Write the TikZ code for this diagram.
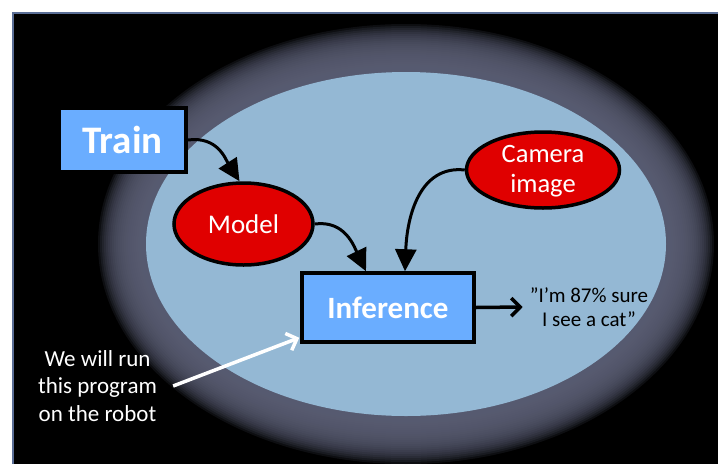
\documentclass[tikz,border=0pt]{standalone}
\usepackage{fontspec}
\setmainfont{Carlito}
\usetikzlibrary{arrows.meta,shapes.geometric}
\definecolor{halo}{RGB}{92,96,118}
\definecolor{pale}{RGB}{148,184,212}
\definecolor{boxblue}{RGB}{106,173,255}
\definecolor{redfill}{RGB}{224,0,0}
\definecolor{frameblue}{RGB}{90,110,150}
\begin{document}
\begin{tikzpicture}[x=1pt,y=-1pt,
  boxnode/.style={draw=black, line width=3.5pt, fill=boxblue, text=white, inner sep=0pt},
  oval/.style={ellipse, draw=black, line width=3.5pt, fill=redfill, inner sep=0pt},
  flow/.style={line width=3pt, -{Triangle[length=22pt,width=21pt]}},
  barb/.style={line width=3.5pt, -{Straight Barb[length=9pt,width=18pt]}},
  lbl/.style={inner sep=0pt, align=center}]
\useasboundingbox (0,0) rectangle (718,464);
\fill[white] (0,0) rectangle (718,464);
\fill[black] (13,13) rectangle (718,464);
\begin{scope}
  \clip (13,13) rectangle (718,464);
  \foreach \i in {48,46,...,2} {
    \fill[halo, fill opacity=0.15] (406,244) ellipse [x radius=260+\i, y radius=172+\i];
  }
\end{scope}
\fill[pale] (406,244) ellipse [x radius=260, y radius=172];
\draw[frameblue, line width=1.2pt] (13,464) -- (13,13) -- (718,13);

\node[boxnode, minimum width=127pt, minimum height=64pt, font=\fontsize{39}{44}\selectfont\bfseries] (train) at (122.5,140) {Train};
\node[oval, minimum width=139pt, minimum height=82pt, text=white, font=\fontsize{27}{32}\selectfont] (model) at (243.5,224) {Model};
\node[oval, minimum width=153pt, minimum height=76pt] (camera) at (543,170) {};
\node[lbl, text=white, font=\fontsize{26.5}{30}\selectfont] (cameratext) at (543,171) {Camera\\image};
\node[boxnode, minimum width=172pt, minimum height=69pt, font=\fontsize{31}{36}\selectfont\bfseries] (inf) at (388,307.5) {Inference};
\node[lbl, font=\fontsize{21}{24}\selectfont] (quote) at (589,307) {”I’m 87\% sure\\I see a cat”};
\node[lbl, text=white, font=\fontsize{23}{27.5}\selectfont] (run) at (97.5,386) {We will run\\this program\\on the robot};

\draw[flow] (train.east) .. controls +(30,-4) and +(-14,-22) .. ([xshift=-4pt]model.north);
\draw[flow] (model.east) .. controls +(30,-4) and +(-12,-25) .. ([xshift=-22pt]inf.north);
\draw[flow] (camera.west) .. controls +(-45,-5) and +(2,-55) .. ([xshift=17pt]inf.north);
\draw[barb] (inf.east) -- ([xshift=-7pt]quote.west);
\draw[barb, white] ([xshift=16pt]run.east) -- ([xshift=-1pt,yshift=6pt]inf.south west);
\end{tikzpicture}
\end{document}
